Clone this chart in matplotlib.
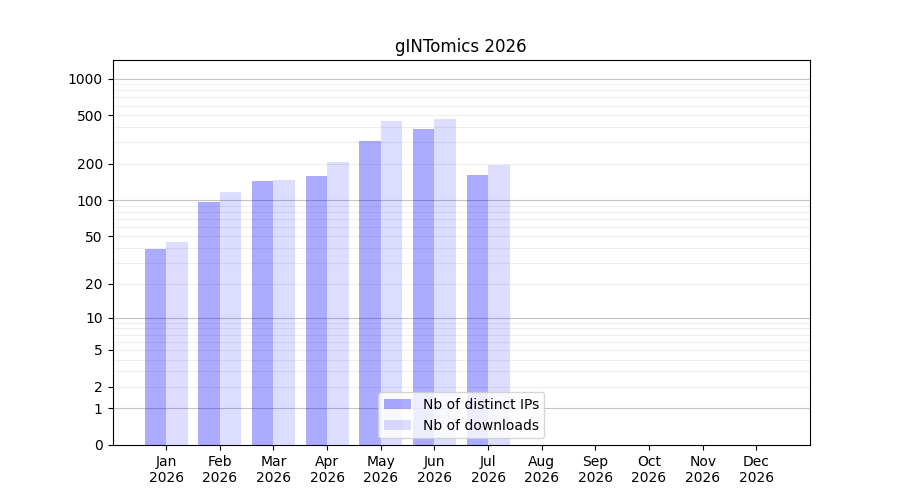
import numpy as np
import matplotlib
matplotlib.use("Agg")
import matplotlib.pyplot as plt
from matplotlib.ticker import FixedLocator, FixedFormatter

months = ["Jan", "Feb", "Mar", "Apr", "May", "Jun", "Jul", "Aug", "Sep", "Oct", "Nov", "Dec"]
year = "2026"
distinct_ips = [39, 96, 143, 157, 305, 383, 160, 0, 0, 0, 0, 0]
downloads = [45, 118, 146, 205, 453, 462, 194, 0, 0, 0, 0, 0]
ytick_values = [0, 1, 2, 5, 10, 20, 50, 100, 200, 500, 1000]
decades = [1, 10, 100, 1000]
minor_values = [m * d for d in [1, 10, 100] for m in range(2, 10)]


def fwd(x):
    x = np.asarray(x, dtype=float)
    return np.log10(1 + np.clip(x, 0, None))


def inv(y):
    return 10 ** np.asarray(y, dtype=float) - 1


fig, ax = plt.subplots(figsize=(9, 5), dpi=100)
x = np.arange(1, len(months) + 1)
w = 0.4
ax.bar(x, distinct_ips, width=-w, align="edge", color="blue", alpha=0.33,
       label="Nb of distinct IPs", zorder=2)
ax.bar(x, downloads, width=w, align="edge", color="blue", alpha=0.135,
       label="Nb of downloads", zorder=2)

ax.set_yscale("function", functions=(fwd, inv))
ax.set_ylim(0, 1420)
ax.set_xlim(0, 13)

for v in minor_values:
    ax.axhline(v, color="#eeeeee", lw=0.8, zorder=1)
for v in decades:
    ax.axhline(v, color="#c4c4c4", lw=0.8, zorder=1)

ax.yaxis.set_major_locator(FixedLocator(ytick_values))
ax.yaxis.set_major_formatter(FixedFormatter([str(v) for v in ytick_values]))
ax.yaxis.set_minor_locator(FixedLocator([]))

ax.set_xticks(x)
ax.set_xticklabels([f"{m}\n{year}" for m in months])
ax.set_title("gINTomics 2026")
ax.legend(loc="lower center")

fig.savefig("out.png", dpi=100)
